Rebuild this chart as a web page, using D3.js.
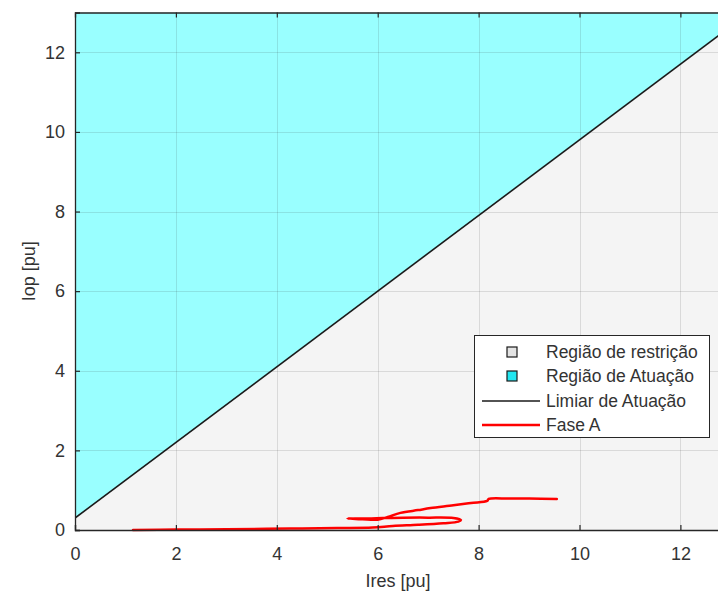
<!DOCTYPE html>
<html>
<head>
<meta charset="utf-8">
<script src="https://cdn.jsdelivr.net/npm/d3@7"></script>
<style>
  html, body { margin: 0; padding: 0; background: #fff; }
  svg { display: block; font-family: "Liberation Sans", Arial, sans-serif; }
</style>
</head>
<body>
<svg id="chart" width="718" height="597"></svg>
<script>
// Axis limits and ticks
const xDomain = [0, 13];
const yDomain = [0, 13];
const xTicks = [0, 2, 4, 6, 8, 10, 12];
const yTicks = [0, 2, 4, 6, 8, 10, 12];

// Operating threshold: Iop = pickup + slope * Ires
const pickup = 0.3;
const slope = 0.95;

// Phase A trajectory (Ires, Iop) in pu
const faseIres = [1.15, 2.0, 3.0, 3.8, 4.5, 5.2, 5.9, 6.3, 6.8, 7.3, 7.6, 7.65, 7.5, 7.0, 6.5, 6.1, 5.8, 5.4, 5.7, 6.0, 6.2, 6.45, 6.8, 7.05, 7.5, 7.85, 8.17, 8.2, 8.6, 9.0, 9.55];
const faseIop  = [0.0, 0.01, 0.02, 0.03, 0.04, 0.05, 0.06, 0.1, 0.13, 0.17, 0.21, 0.25, 0.30, 0.31, 0.31, 0.30, 0.29, 0.29, 0.27, 0.26, 0.33, 0.43, 0.5, 0.55, 0.62, 0.68, 0.73, 0.78, 0.79, 0.79, 0.78];

const legendLabels = ["Região de restrição", "Região de Atuação", "Limiar de Atuação", "Fase A"];

const svg = d3.select("#chart");
const m = { left: 75, top: 12.5, bottom: 530 };
const right = m.left + 50.45 * xDomain[1];

const x = d3.scaleLinear().domain(xDomain).range([m.left, right]);
const y = d3.scaleLinear().domain(yDomain).range([m.bottom, m.top]);

const axisColor = "#262626";
const textColor = "#333333";
const cyanFill = "#99ffff";
const grayFill = "#f4f4f4";

svg.append("clipPath").attr("id", "plotclip")
  .append("rect").attr("x", x(0)).attr("y", y(13)).attr("width", x(13) - x(0)).attr("height", y(0) - y(13));

const plot = svg.append("g").attr("clip-path", "url(#plotclip)");

const thr = v => pickup + slope * v;
const poly = d3.line().x(d => x(d[0])).y(d => y(d[1]));

// Restraint region (below threshold)
plot.append("path")
  .attr("d", poly([[0, 0], [13, 0], [13, thr(13)], [0, thr(0)]]) + "Z")
  .attr("fill", grayFill);

// Operating region (above threshold)
plot.append("path")
  .attr("d", poly([[0, thr(0)], [13, thr(13)], [13, 13], [0, 13]]) + "Z")
  .attr("fill", cyanFill);

// Grid
const grid = plot.append("g").attr("stroke", "#262626").attr("stroke-opacity", 0.13).attr("stroke-width", 1);
xTicks.filter(t => t > 0).forEach(t => {
  grid.append("line").attr("x1", Math.round(x(t)) + 0.5).attr("x2", Math.round(x(t)) + 0.5)
    .attr("y1", y(0)).attr("y2", y(13));
});
yTicks.filter(t => t > 0).forEach(t => {
  grid.append("line").attr("y1", Math.round(y(t)) + 0.5).attr("y2", Math.round(y(t)) + 0.5)
    .attr("x1", x(0)).attr("x2", x(13));
});

// Threshold line
plot.append("path")
  .attr("d", poly([[0, thr(0)], [13, thr(13)]]))
  .attr("fill", "none").attr("stroke", "#1a1a1a").attr("stroke-width", 1.6);

// Phase A curve
const faseData = faseIres.map((v, i) => [v, faseIop[i]]);
svg.append("path")
  .attr("d", d3.line().x(d => x(d[0])).y(d => y(d[1])).curve(d3.curveCatmullRom.alpha(0.5))(faseData))
  .attr("fill", "none").attr("stroke", "#ff0000").attr("stroke-width", 2.5)
  .attr("stroke-linejoin", "round").attr("stroke-linecap", "round");

// Axes (ticks inward)
const tickLen = 5;
const xAxis = svg.append("g").attr("transform", `translate(0,${y(0)})`)
  .call(d3.axisBottom(x).tickValues(xTicks).tickSize(-tickLen).tickPadding(17).tickFormat(d3.format("d")));
const xAxisTop = svg.append("g").attr("transform", `translate(0,${y(13)})`)
  .call(d3.axisTop(x).tickValues(xTicks).tickSize(-tickLen).tickFormat(""));
const yAxis = svg.append("g").attr("transform", `translate(${x(0)},0)`)
  .call(d3.axisLeft(y).tickValues(yTicks).tickSize(-tickLen).tickPadding(10).tickFormat(d3.format("d")));

[xAxis, xAxisTop, yAxis].forEach(g => {
  g.selectAll("path.domain").attr("stroke", axisColor).attr("stroke-width", 1.3);
  g.selectAll(".tick line").attr("stroke", axisColor).attr("stroke-width", 1.2);
  g.selectAll(".tick text").attr("fill", textColor).attr("font-size", 18)
    .attr("font-family", "'Liberation Sans', Arial, sans-serif");
});
xAxisTop.selectAll(".tick").filter(d => d === 0).remove();

// Axis labels
svg.append("text").attr("x", 398).attr("y", 587).attr("text-anchor", "middle")
  .attr("font-size", 18).attr("fill", textColor).text("Ires [pu]");
svg.append("text").attr("transform", `translate(35,${(y(0) + y(13)) / 2}) rotate(-90)`)
  .attr("text-anchor", "middle").attr("font-size", 18).attr("fill", textColor).text("Iop [pu]");

// Legend
const lg = svg.append("g");
lg.append("rect").attr("x", 474.5).attr("y", 335.5).attr("width", 235).attr("height", 102)
  .attr("fill", "#ffffff").attr("stroke", axisColor).attr("stroke-width", 1);
const rowY = [352, 376, 401, 425];
const legendKinds = ["gray", "cyan", "black", "red"];
legendKinds.forEach((k, i) => {
  const cy = rowY[i];
  if (k === "gray" || k === "cyan") {
    lg.append("rect").attr("x", 507).attr("y", cy - 5).attr("width", 10).attr("height", 10)
      .attr("fill", k === "gray" ? "#e3e3e3" : "#22e6f0").attr("stroke", "#1a1a1a").attr("stroke-width", 1.2);
  } else {
    lg.append("line").attr("x1", 482).attr("x2", 540).attr("y1", cy).attr("y2", cy)
      .attr("stroke", k === "black" ? "#1a1a1a" : "#ff0000").attr("stroke-width", k === "black" ? 1.5 : 2.5);
  }
  lg.append("text").attr("x", 546).attr("y", cy).attr("dy", "0.35em")
    .attr("font-size", 17.5).attr("fill", textColor).text(legendLabels[i]);
});
</script>
</body>
</html>
